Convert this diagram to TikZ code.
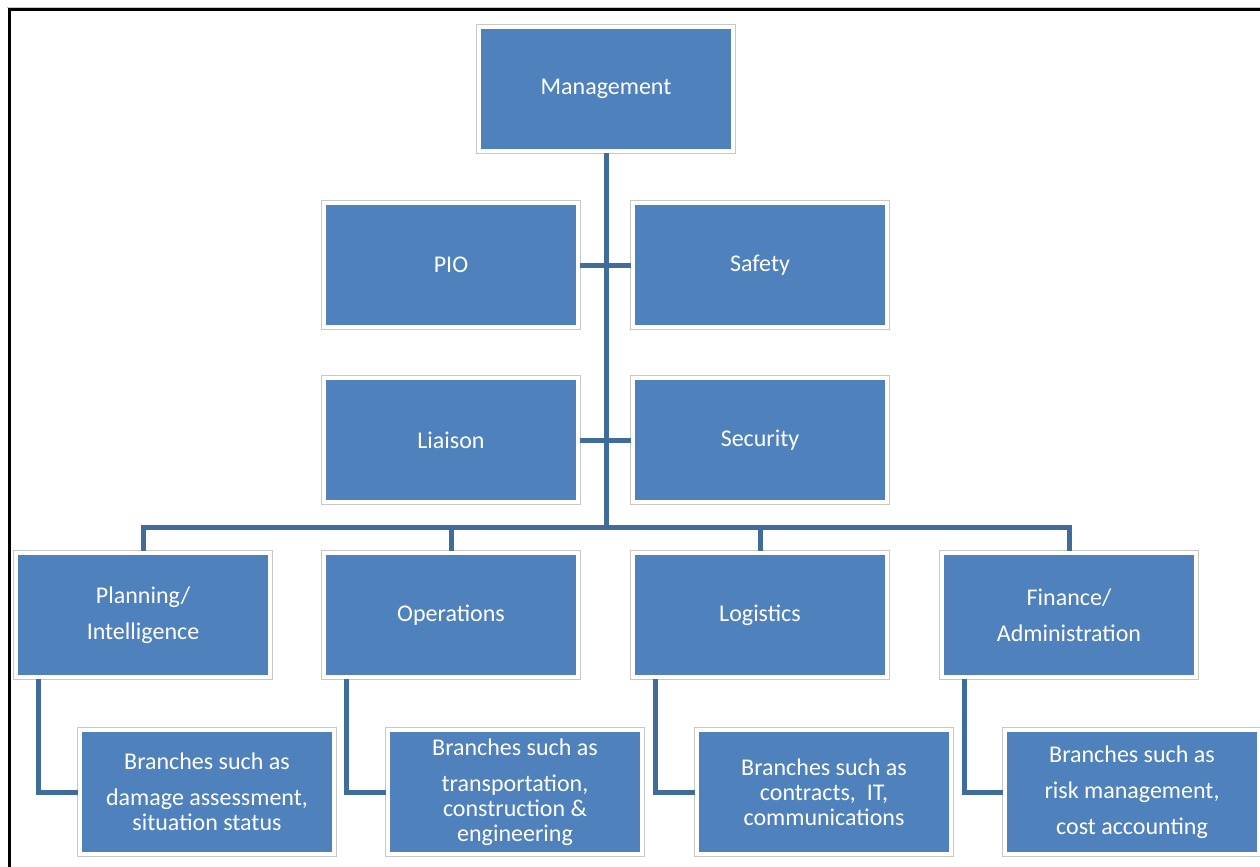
\documentclass[tikz,border=0pt]{standalone}
\usepackage{fontspec}
\setmainfont{Carlito}
\usepackage{tikz}

\definecolor{boxblue}{RGB}{79,129,189}
\definecolor{lineblue}{RGB}{64,108,156}
\definecolor{rimgray}{RGB}{200,200,200}

\tikzset{
	orgbox/.style={rectangle, minimum width=127pt, minimum height=62pt, inner sep=0pt,
		fill=boxblue, draw=white, line width=2.2pt,
		preaction={draw=rimgray, line width=3pt},
		text=white, align=center, font=\fontsize{12}{12.5}\selectfont},
	orgline/.style={draw=lineblue, line width=2.5pt}
}

\begin{document}
\begin{tikzpicture}[x=0.5pt, y=-0.5pt]
	\clip (0,0) rectangle (1260,867);
	\fill[white] (0,0) rectangle (1260,867);
	
	% frame
	\draw[rimgray, line width=0.6pt] (7,7.5) -- (1270,7.5);
	\draw[black, line width=1.5pt] (9.5,880) -- (9.5,9.5) -- (1270,9.5);
	
	% boxes
	\node[orgbox] (mgmt) at (606,89) {Management};
	\node[orgbox] (pio) at (451,265) {PIO};
	\node[orgbox] (safety) at (760,265) {Safety};
	\node[orgbox] (liaison) at (451,440) {Liaison};
	\node[orgbox] (security) at (760,440) {Security};
	
	\node[orgbox] (plan) at (143,615) {Planning/\\[5.5pt]Intelligence};
	\node[orgbox] (oper) at (451,615) {Operations};
	\node[orgbox] (logi) at (760,615) {Logistics};
	\node[orgbox] (fina) at (1069,615) {Finance/\\[5.5pt]Administration};
	
	\node[orgbox] (br1) at (207,792) {Branches such as\\[5.5pt]damage assessment,\\situation status};
	\node[orgbox] (br2) at (515,792) {Branches such as\\[5.5pt]transportation,\\construction \&\\engineering};
	\node[orgbox] (br3) at (824,792) {Branches such as\\contracts,~ IT,\\communications};
	\node[orgbox] (br4) at (1132,792) {Branches such as\\[5.5pt]risk management,\\[5.5pt]cost accounting};
	
	% connectors
	\coordinate (bus) at (606,527);
	\draw[orgline] (mgmt.south) -- (bus);
	\draw[orgline] (pio.east) -- (safety.west);
	\draw[orgline] (liaison.east) -- (security.west);
	\foreach \n in {plan,oper,logi,fina}
		\draw[orgline] (\n.north) |- (bus);
	
	\draw[orgline] ([xshift=12.5pt]plan.south west) |- (br1.west);
	\draw[orgline] ([xshift=12.5pt]oper.south west) |- (br2.west);
	\draw[orgline] ([xshift=12.5pt]logi.south west) |- (br3.west);
	\draw[orgline] ([xshift=12.5pt]fina.south west) |- (br4.west);
\end{tikzpicture}
\end{document}
